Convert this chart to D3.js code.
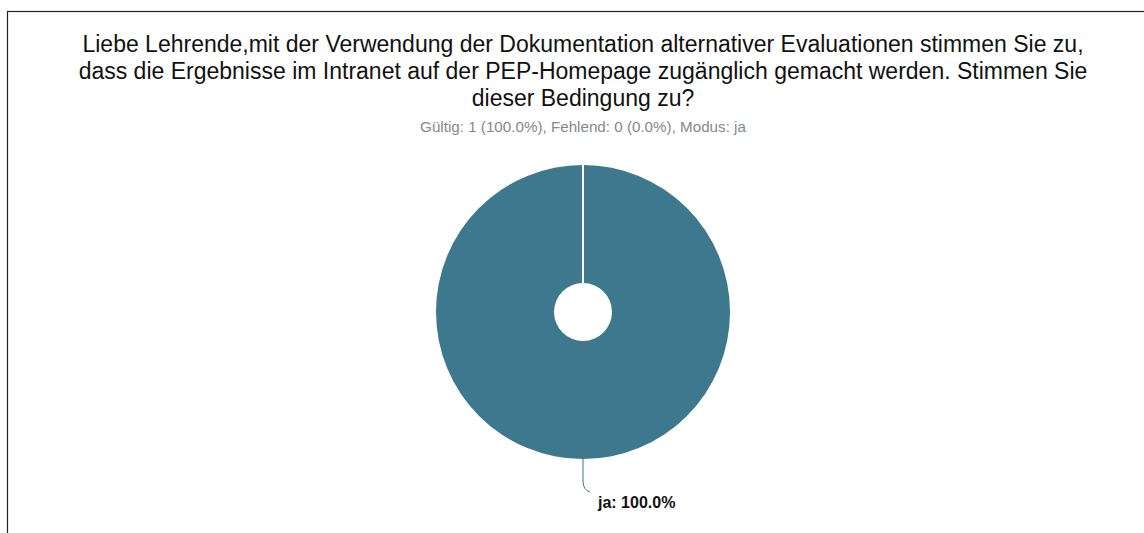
<!DOCTYPE html>
<html>
<head>
    <script src="https://d3js.org/d3.v7.min.js"></script>
    <style>
        body { margin: 0; background: #fff; }
        svg { display: block; font-family: "Liberation Sans", Arial, sans-serif; }
    </style>
</head>
<body>
    <div id="chart"></div>
    <script>
        const titleLines = [
            'Liebe Lehrende,mit der Verwendung der Dokumentation alternativer Evaluationen stimmen Sie zu,',
            'dass die Ergebnisse im Intranet auf der PEP-Homepage zugänglich gemacht werden. Stimmen Sie',
            'dieser Bedingung zu?'
        ];
        const subtitle = 'Gültig: 1 (100.0%), Fehlend: 0 (0.0%), Modus: ja';
        const categories = ['ja'];
        const values = [100.0];
        const colors = ['#3d788e'];

        const width = 1144, height = 533;
        const cx = 583, cy = 312, outerR = 147, innerR = 29;

        const svg = d3.select('#chart').append('svg')
            .attr('width', width)
            .attr('height', height);

        // frame (only top and left edges show in the window)
        svg.append('rect')
            .attr('x', 7.5).attr('y', 11.5)
            .attr('width', 1200).attr('height', 600)
            .attr('fill', 'none')
            .attr('stroke', '#222')
            .attr('stroke-width', 1.2);

        svg.append('text')
            .attr('text-anchor', 'middle')
            .attr('font-size', 23)
            .attr('fill', '#111')
            .selectAll('tspan')
            .data(titleLines)
            .join('tspan')
            .attr('x', cx)
            .attr('y', (d, i) => 52 + i * 27)
            .text(d => d);

        svg.append('text')
            .attr('x', cx).attr('y', 132)
            .attr('text-anchor', 'middle')
            .attr('font-size', 15.2)
            .attr('fill', '#888')
            .text(subtitle);

        const data = categories.map((c, i) => ({ name: c, value: values[i] }));
        const pie = d3.pie().value(d => d.value).sort(null);
        const arc = d3.arc().innerRadius(innerR).outerRadius(outerR);

        const g = svg.append('g').attr('transform', `translate(${cx},${cy})`);
        const arcs = pie(data);

        g.selectAll('path.slice')
            .data(arcs)
            .join('path')
            .attr('class', 'slice')
            .attr('d', arc)
            .attr('fill', (d, i) => colors[i]);

        // slice boundary line at the start angle
        g.selectAll('line.edge')
            .data(arcs)
            .join('line')
            .attr('class', 'edge')
            .attr('x1', d => innerR * Math.sin(d.startAngle))
            .attr('y1', d => -innerR * Math.cos(d.startAngle))
            .attr('x2', d => outerR * Math.sin(d.startAngle))
            .attr('y2', d => -outerR * Math.cos(d.startAngle))
            .attr('stroke', '#fff')
            .attr('stroke-width', 2);

        // leader line and label
        arcs.forEach((d, i) => {
            const mid = (d.startAngle + d.endAngle) / 2;
            const x0 = outerR * Math.sin(mid), y0 = -outerR * Math.cos(mid);
            g.append('path')
                .attr('d', `M${x0},${y0} L${x0},${y0 + 22} Q${x0},${y0 + 31} ${x0 + 7},${y0 + 33}`)
                .attr('fill', 'none')
                .attr('stroke', colors[i])
                .attr('stroke-width', 1);
            g.append('text')
                .attr('x', x0 + 15)
                .attr('y', y0 + 49)
                .attr('font-size', 16)
                .attr('font-weight', 'bold')
                .attr('fill', '#111')
                .text(`${d.data.name}: ${d.data.value.toFixed(1)}%`);
        });
    </script>
</body>
</html>
